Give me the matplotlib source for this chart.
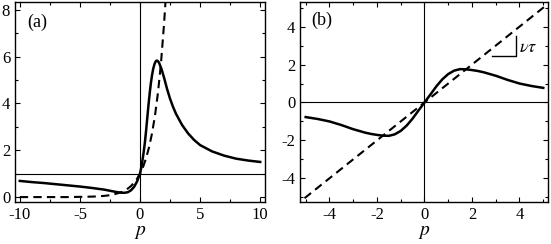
import matplotlib
matplotlib.use("Agg")
import matplotlib.pyplot as plt
from matplotlib.ticker import MultipleLocator

plt.rcParams['font.family'] = ['Liberation Serif', 'DejaVu Serif']
plt.rcParams['mathtext.fontset'] = 'stix'
plt.rcParams['axes.unicode_minus'] = False

# ---- Panel (a) data ----
pa_solid = [-10, -9, -8, -7, -6, -5, -4, -3, -2.5, -2, -1.75, -1.5, -1.25, -1, -0.75, -0.5, -0.25,
            0, 0.1, 0.2, 0.3, 0.4, 0.5, 0.6, 0.7, 0.8, 0.9, 1.0, 1.1, 1.2, 1.3, 1.4, 1.5,
            1.6, 1.8, 2.0, 2.25, 2.5, 2.75, 3.0, 3.5, 4.0, 4.5, 5.0, 6, 7, 8, 9, 10]
va_solid = [0.69, 0.64, 0.60, 0.55, 0.50, 0.45, 0.39, 0.32, 0.27, 0.22, 0.20, 0.185, 0.185, 0.21, 0.29, 0.43, 0.66,
            1.0, 1.25, 1.55, 1.9, 2.3, 2.8, 3.35, 3.9, 4.4, 4.85, 5.2, 5.48, 5.67, 5.79, 5.83, 5.8,
            5.72, 5.45, 5.1, 4.62, 4.2, 3.85, 3.55, 3.08, 2.72, 2.44, 2.22, 1.95, 1.77, 1.64, 1.56, 1.5]
pa_dash = [-10, -8, -6, -5, -4, -3.5, -3, -2.5, -2, -1.5, -1, -0.75, -0.5, -0.25, 0, 0.25, 0.5, 0.75,
           1.0, 1.25, 1.5, 1.75, 2.0, 2.12]
va_dash = [0.0, 0.0, 0.0, 0.01, 0.02, 0.03, 0.05, 0.08, 0.14, 0.22, 0.37, 0.47, 0.61, 0.78, 1.0, 1.28, 1.65, 2.12,
           2.72, 3.49, 4.48, 5.75, 7.39, 8.33]

# ---- Panel (b) data ----
pb_solid = [-5.0, -4.5, -4.0, -3.5, -3.0, -2.75, -2.5, -2.25, -2.0, -1.75, -1.5, -1.25, -1.0, -0.75, -0.5, -0.25,
            0, 0.25, 0.5, 0.75, 1.0, 1.25, 1.5, 1.75, 2.0, 2.25, 2.5, 2.75, 3.0, 3.5, 4.0, 4.5, 5.0]
vb_solid = [-0.77, -0.87, -1.0, -1.19, -1.41, -1.50, -1.59, -1.66, -1.71, -1.75, -1.76, -1.68, -1.5, -1.22, -0.85, -0.42,
            0, 0.42, 0.85, 1.22, 1.5, 1.68, 1.76, 1.75, 1.71, 1.66, 1.59, 1.50, 1.41, 1.19, 1.0, 0.87, 0.77]
pb_dash = [-5.05, 5.1]
vb_dash = [-5.05, 5.1]

fig = plt.figure(figsize=(5.51, 2.44), dpi=100)
axa = fig.add_axes([15/551, 42/244, 250/551, 200/244])
axb = fig.add_axes([300/551, 42/244, 248/551, 200/244])

for ax in (axa, axb):
    ax.tick_params(which='both', direction='in', top=True, right=True, labelsize=12, width=0.8)
    ax.tick_params(which='major', length=3.5, pad=3.5)
    ax.tick_params(which='minor', length=2)
    for s in ax.spines.values():
        s.set_linewidth(1.0)
    ax.set_xlabel('$p$', fontsize=14, labelpad=1)

# Panel (a)
axa.axhline(1, color='black', lw=0.8)
axa.axvline(0, color='black', lw=0.8)
axa.plot(pa_dash, va_dash, color='black', lw=1.5, ls=(0, (4, 2.5)))
axa.plot(pa_solid, va_solid, color='black', lw=1.8)
axa.set_xlim(-10.4, 10.4)
axa.set_ylim(-0.21, 8.33)
axa.xaxis.set_major_locator(MultipleLocator(5))
axa.xaxis.set_minor_locator(MultipleLocator(2.5))
axa.yaxis.set_major_locator(MultipleLocator(2))
axa.yaxis.set_minor_locator(MultipleLocator(1))
axa.text(0.048, 0.9, '(a)', transform=axa.transAxes, fontsize=13, va='center', ha='left')

# Panel (b)
axb.axhline(0, color='black', lw=0.8)
axb.axvline(0, color='black', lw=0.8)
axb.plot(pb_dash, vb_dash, color='black', lw=1.5, ls=(0, (4, 2.5)))
axb.plot(pb_solid, vb_solid, color='black', lw=1.8)
axb.plot([2.85, 3.87, 3.87], [2.47, 2.47, 3.49], color='black', lw=1.0)
axb.text(4.0, 2.9, r'$\nu\tau$', fontsize=13, va='center', ha='left')
axb.set_xlim(-5.24, 5.2)
axb.set_ylim(-5.25, 5.3)
axb.xaxis.set_major_locator(MultipleLocator(2))
axb.xaxis.set_minor_locator(MultipleLocator(1))
axb.yaxis.set_major_locator(MultipleLocator(2))
axb.yaxis.set_minor_locator(MultipleLocator(1))
axb.text(0.047, 0.907, '(b)', transform=axb.transAxes, fontsize=13, va='center', ha='left')

fig.savefig('out.png', dpi=100)
